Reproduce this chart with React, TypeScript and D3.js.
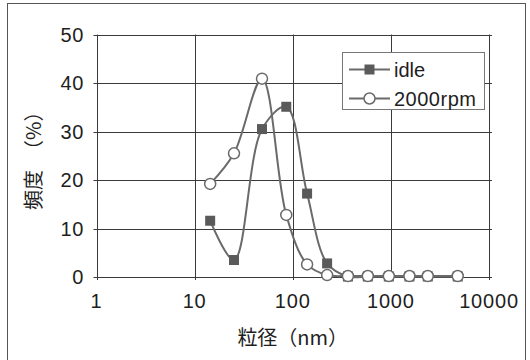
import React from 'react';
import * as d3 from 'd3';

// particle diameter (nm) of each bin
const sizes = [14.4, 25.2, 48.6, 85.9, 140, 224, 365, 582, 953, 1545, 2377, 4800];
const idleValues = [11.6, 3.5, 30.5, 35.1, 17.2, 2.8, 0.1, 0.1, 0.1, 0.1, 0.1, 0.1];
const rpmValues = [19.2, 25.5, 40.9, 12.8, 2.6, 0.4, 0.2, 0.2, 0.2, 0.2, 0.2, 0.2];
const xTicks = [1, 10, 100, 1000, 10000];
const yTicks = [0, 10, 20, 30, 40, 50];
const seriesNames = ['idle', '2000rpm'];

const W = 530;
const H = 360;
const margin = { top: 34.5, left: 96.5, bottom: 83, right: 41 };
const font = '"Liberation Sans", Arial, sans-serif';
const cjk = '"Noto Sans CJK JP", "Liberation Sans", sans-serif';
const lineColor = '#6a6a6a';
const gridColor = '#3a3a3a';
const textColor = '#1e1e1e';

export default function App() {
  const x = d3.scaleLog().domain([1, 10000]).range([margin.left, W - margin.right]);
  const y = d3.scaleLinear().domain([0, 50]).range([H - margin.bottom, margin.top]);

  const line = d3
    .line<number>()
    .x((_, i) => x(sizes[i]))
    .y((d) => y(d))
    .curve(d3.curveCatmullRom.alpha(0.5));

  const [x0, x1] = x.range();
  const [y0, y1] = y.range();

  return (
    <svg width={W} height={H} style={{ position: 'absolute', left: 0, top: 0 }}>
      <rect x={0} y={0} width={W} height={H} fill="#fff" />
      {/* outer frame */}
      <rect x={7.5} y={3.5} width={518} height={H} fill="none" stroke="#555" strokeWidth={1} />

      {/* grid */}
      {yTicks.map((t) => (
        <line key={'gy' + t} x1={x0 - 3} x2={x1 + 3} y1={Math.round(y(t)) + 0.5} y2={Math.round(y(t)) + 0.5} stroke={gridColor} strokeWidth={1} />
      ))}
      {xTicks.map((t) => (
        <line key={'gx' + t} x1={Math.round(x(t)) + 0.5} x2={Math.round(x(t)) + 0.5} y1={y1} y2={y0 + 3} stroke={gridColor} strokeWidth={1} />
      ))}

      {/* y tick labels */}
      {yTicks.map((t) => (
        <text key={'yl' + t} x={84} y={y(t) + 7} textAnchor="end" fontFamily={font} fontSize={20} letterSpacing={0.6} fill={textColor}>
          {t}
        </text>
      ))}
      {/* x tick labels */}
      {xTicks.map((t) => (
        <text key={'xl' + t} x={x(t)} y={308} textAnchor="middle" fontFamily={font} fontSize={20} letterSpacing={0.8} fill={textColor}>
          {t}
        </text>
      ))}

      {/* axis titles */}
      <text x={(x0 + x1) / 2} y={345} textAnchor="middle" fontFamily={cjk} fontSize={20} fill={textColor}>
        粒径（nm）
      </text>
      <text
        transform={`translate(41,${(y0 + y1) / 2}) rotate(-90)`}
        textAnchor="middle"
        fontFamily={cjk}
        fontSize={20}
        fill={textColor}
      >
        頻度　（%）
      </text>

      {/* series lines */}
      <path d={line(idleValues) ?? ''} fill="none" stroke={lineColor} strokeWidth={2} />
      <path d={line(rpmValues) ?? ''} fill="none" stroke={lineColor} strokeWidth={2} />

      {/* idle markers */}
      {idleValues.map((v, i) => (
        <rect key={'m1' + i} x={x(sizes[i]) - 5} y={y(v) - 5} width={10} height={10} fill="#5a5a5a" />
      ))}
      {/* 2000rpm markers */}
      {rpmValues.map((v, i) => (
        <circle key={'m2' + i} cx={x(sizes[i])} cy={y(v)} r={5.5} fill="#fff" stroke={lineColor} strokeWidth={1.5} />
      ))}

      {/* legend */}
      <g>
        <rect x={342.5} y={52.5} width={142} height={57} fill="#fff" stroke="#777" strokeWidth={1} />
        <line x1={349} x2={390} y1={69.5} y2={69.5} stroke={lineColor} strokeWidth={2} />
        <rect x={369.5 - 5} y={69.5 - 5} width={10} height={10} fill="#5a5a5a" />
        <text x={394} y={76.5} fontFamily={font} fontSize={20} fill={textColor}>
          {seriesNames[0]}
        </text>
        <line x1={349} x2={390} y1={98.5} y2={98.5} stroke={lineColor} strokeWidth={2} />
        <circle cx={369.5} cy={98.5} r={5.5} fill="#fff" stroke={lineColor} strokeWidth={1.5} />
        <text x={394} y={105.5} fontFamily={font} fontSize={20} letterSpacing={0.5} fill={textColor}>
          {seriesNames[1]}
        </text>
      </g>
    </svg>
  );
}
